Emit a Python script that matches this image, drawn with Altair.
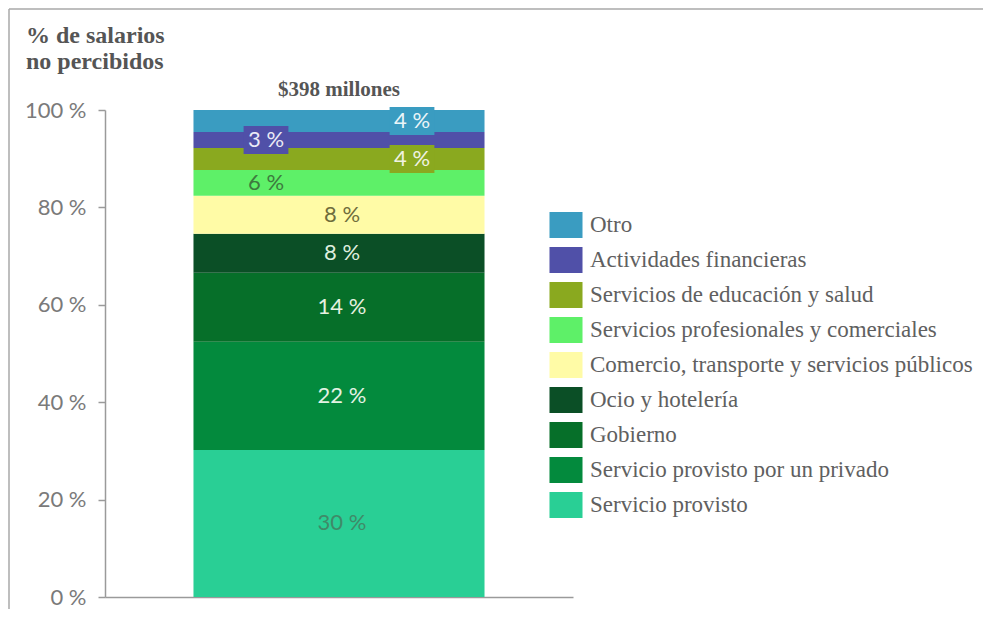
import altair as alt
import pandas as pd

# ---- data (bottom to top of the stacked bar) ----
categorias = [
    "Servicio provisto",
    "Servicio provisto por un privado",
    "Gobierno",
    "Ocio y hotelería",
    "Comercio, transporte y servicios públicos",
    "Servicios profesionales y comerciales",
    "Servicios de educación y salud",
    "Actividades financieras",
    "Otro",
]
valores = [30.2, 22.2, 14.2, 8.0, 7.8, 5.3, 4.5, 3.3, 4.5]
etiquetas = ["30 %", "22 %", "14 %", "8 %", "8 %", "6 %", "4 %", "3 %", "4 %"]
total_texto = "$398 millones"
titulo = ["% de salarios", "no percibidos"]
ticks_y = [0, 20, 40, 60, 80, 100]

# ---- styles ----
colores = {
    "Servicio provisto": "#29cf95",
    "Servicio provisto por un privado": "#038a3d",
    "Gobierno": "#066f29",
    "Ocio y hotelería": "#0b4f26",
    "Comercio, transporte y servicios públicos": "#fffba6",
    "Servicios profesionales y comerciales": "#5ef068",
    "Servicios de educación y salud": "#8aa91f",
    "Actividades financieras": "#5050a8",
    "Otro": "#3a9cc1",
}
colores_texto = {
    "Servicio provisto": "#3f8a68",
    "Servicio provisto por un privado": "#e4f2e4",
    "Gobierno": "#e6f1e0",
    "Ocio y hotelería": "#dfeedf",
    "Comercio, transporte y servicios públicos": "#6f6d3c",
    "Servicios profesionales y comerciales": "#3d7a3e",
    "Servicios de educación y salud": "#f0f2e2",
    "Actividades financieras": "#eaeaf6",
    "Otro": "#eaf5f8",
}
izquierda = ["Actividades financieras", "Servicios profesionales y comerciales"]
derecha = ["Otro", "Servicios de educación y salud"]
centro = [c for c in categorias if c not in izquierda + derecha]
con_caja_izq = ["Actividades financieras"]
con_caja_der = ["Otro", "Servicios de educación y salud"]

orden_leyenda = list(reversed(categorias))

df = pd.DataFrame({
    "grupo": ["total"] * len(categorias),
    "categoria": categorias,
    "valor": valores,
    "etiqueta": etiquetas,
    "orden": list(range(len(categorias))),
})
df_total = pd.DataFrame({"grupo": ["total"], "total": [sum(valores)], "texto": [total_texto]})

GRAY = "#9a9a9a"
escala_color = alt.Scale(domain=orden_leyenda, range=[colores[c] for c in orden_leyenda])
escala_texto = alt.Scale(domain=orden_leyenda, range=[colores_texto[c] for c in orden_leyenda])
escala_y = alt.Scale(domain=[0, 100], nice=False)

xenc = alt.X(
    "grupo:N", title=None,
    scale=alt.Scale(paddingInner=0, paddingOuter=0.304),
    axis=alt.Axis(labels=False, ticks=False, domainColor=GRAY, domainWidth=1.5, title=None),
)

rect_path = "M-1.27,-1L1.27,-1L1.27,1L-1.27,1Z"
box_path = "M-1.6,-1L1.6,-1L1.6,1L-1.6,1Z"

barras = alt.Chart(df).mark_bar().encode(
    x=xenc,
    y=alt.Y(
        "valor:Q", stack="zero", scale=escala_y, title=None,
        axis=alt.Axis(
            values=ticks_y, labelExpr="datum.value + ' %'", grid=False,
            labelFont="Lato", labelFontSize=22, labelColor="#7a7a7a",
            labelPadding=12, tickSize=7, tickColor=GRAY, tickWidth=1.5,
            domainColor=GRAY, domainWidth=1.5, title=None,
        ),
    ),
    color=alt.Color(
        "categoria:N", scale=escala_color,
        legend=alt.Legend(
            title=None, orient="none", legendX=448, legendY=102, padding=0,
            symbolType=rect_path, symbolSize=676, symbolStrokeWidth=0, symbolOpacity=1,
            labelFont="Liberation Serif", labelFontSize=23, labelColor="#606060",
            labelOffset=11, rowPadding=9, labelLimit=0,
        ),
    ),
    order=alt.Order("orden:Q", sort="ascending"),
)

apilado = alt.Chart(df).transform_stack(
    stack="valor", groupby=["grupo"], sort=[alt.SortField("orden", order="ascending")], as_=["y0", "y1"]
).transform_calculate(medio="(datum.y0 + datum.y1) / 2")


def cajas(lista, desplaz):
    return apilado.transform_filter(
        alt.FieldOneOfPredicate(field="categoria", oneOf=lista)
    ).mark_point(
        shape=box_path, filled=True, size=784, opacity=1, strokeWidth=0, xOffset=desplaz
    ).encode(
        x=xenc,
        y=alt.Y("medio:Q", scale=escala_y, title=None),
        color=alt.Color("categoria:N", scale=escala_color, legend=None),
    )


def textos(lista, desplaz):
    return apilado.transform_filter(
        alt.FieldOneOfPredicate(field="categoria", oneOf=lista)
    ).mark_text(
        font="Lato", fontSize=22, baseline="middle", align="center", dx=desplaz
    ).encode(
        x=xenc,
        y=alt.Y("medio:Q", scale=escala_y, title=None),
        text="etiqueta:N",
        color=alt.Color("categoria:N", scale=escala_texto, legend=None),
    )


total = alt.Chart(df_total).mark_text(
    font="Liberation Serif", fontSize=21, fontWeight="bold", color="#555555",
    baseline="bottom", dy=-10,
).encode(
    x=xenc,
    y=alt.Y("total:Q", scale=escala_y, title=None),
    text="texto:N",
)

marco_sup = alt.Chart(df_total).mark_rule(color="#a8a8a8", strokeWidth=1.5).encode(
    x=alt.value(-96), x2=alt.value(890), y=alt.value(-101)
)
marco_izq = alt.Chart(df_total).mark_rule(color="#a8a8a8", strokeWidth=1.5).encode(
    x=alt.value(-96), y=alt.value(-101), y2=alt.value(520)
)

chart = alt.layer(
    barras,
    cajas(con_caja_izq, -73),
    cajas(con_caja_der, 73),
    textos(centro, 3),
    textos(izquierda, -73),
    textos(derecha, 73),
    total,
    marco_sup,
    marco_izq,
).resolve_scale(color="independent").properties(
    width=468,
    height=487,
    autosize=alt.AutoSizeParams(type="none"),
    padding={"left": 97, "top": 102, "right": 410, "bottom": 12},
    title=alt.TitleParams(
        text=titulo, anchor="start", frame="group", font="Liberation Serif",
        fontSize=24, fontWeight="bold", color="#555555", lineHeight=26,
        dx=-79, offset=0, dy=66,
    ),
).configure_view(stroke=None)

chart.save("out.html", embed_options={"renderer": "svg", "actions": False})
